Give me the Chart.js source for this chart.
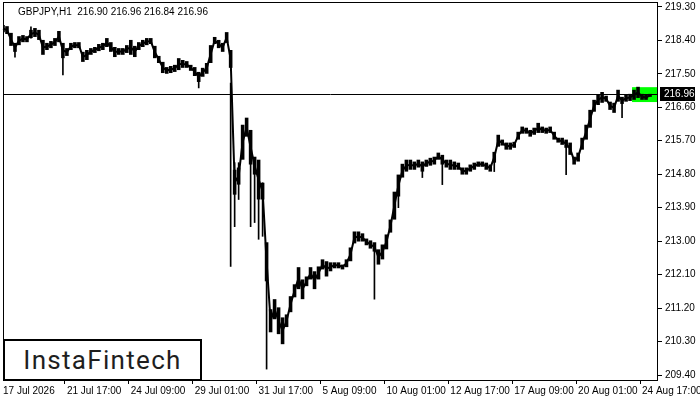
<!DOCTYPE html>
<html>
<head>
<meta charset="utf-8">
<title>GBPJPY H1</title>
<script src="https://cdn.jsdelivr.net/npm/chart.js@4"></script>
<style>
  html, body { margin: 0; padding: 0; background: #fff; }
  #wrap { position: relative; width: 700px; height: 400px; }
  #title { position: absolute; left: 18px; top: 6px; font: 10px "Liberation Sans", Arial, sans-serif; white-space: pre; color: #000; }
  #logo { position: absolute; left: 3px; top: 339px; width: 195px; height: 38px; border: 2px solid #000; background: #fff;
          font: 400 26px Roboto, sans-serif; color: #1e1e1e; text-align: center; line-height: 38px; letter-spacing: 1.3px; }
</style>
</head>
<body>
<div id="wrap">
  <canvas id="chart"></canvas>
  <div id="title"></div>
  <div id="logo">InstaFintech</div>
</div>
<script>
// GBPJPY H1, one slot = 4 hourly bars (range of the slot)
const symbol = 'GBPJPY,H1';
const lastBar = [216.90, 216.96, 216.84, 216.96]; // open high low close

const highs = [
  218.81, 218.78, 218.60, 218.33, 218.51, 218.54, 218.51, 218.68, 218.73, 218.68,
  218.41, 218.33, 218.38, 218.46, 218.65, 218.33, 218.19, 218.33, 218.35, 218.35,
  218.09, 218.14, 218.19, 218.22, 218.30, 218.33, 218.46, 218.35, 218.22, 218.19,
  218.19, 218.27, 218.41, 218.25, 218.35, 218.41, 218.46, 218.46, 218.25, 217.98,
  217.82, 217.68, 217.71, 217.74, 217.92, 217.87, 217.84, 217.74, 217.68, 217.55,
  217.66, 217.79, 218.27, 218.49, 218.41, 218.33, 218.62, 218.14, 214.92, 214.98,
  216.13, 216.32, 215.99, 215.27, 215.19, 214.57, 212.97, 211.17, 211.44, 211.22,
  210.95, 211.03, 211.52, 211.84, 212.30, 211.97, 212.05, 212.30, 212.19, 212.32,
  212.51, 212.46, 212.43, 212.43, 212.43, 212.37, 212.51, 212.83, 213.26, 213.26,
  213.21, 213.07, 213.02, 212.97, 212.78, 212.91, 213.18, 213.58, 214.33, 214.79,
  215.08, 215.19, 215.19, 215.14, 215.19, 215.14, 215.19, 215.24, 215.27, 215.38,
  215.32, 215.19, 215.19, 215.14, 215.11, 214.98, 214.98, 215.06, 215.11, 215.14,
  215.14, 215.11, 215.06, 215.40, 215.86, 215.73, 215.65, 215.65, 215.67, 215.94,
  216.08, 216.05, 215.99, 216.05, 216.18, 216.08, 216.05, 216.08, 215.94, 215.78,
  215.78, 215.73, 215.65, 215.27, 215.38, 215.78, 216.13, 216.53, 216.80, 216.93,
  217.01, 216.91, 216.75, 216.72, 217.07, 216.88, 216.93, 216.96, 217.07, 217.15,
  216.96, 216.93, 216.96
];
const lows = [
  218.62, 218.57, 218.25, 218.09, 218.27, 218.35, 218.35, 218.46, 218.49, 218.41,
  218.01, 218.14, 218.19, 218.25, 218.35, 217.92, 217.98, 218.14, 218.19, 218.19,
  217.82, 217.87, 218.01, 218.06, 218.11, 218.14, 218.22, 218.09, 217.95, 218.01,
  218.01, 218.06, 218.01, 217.95, 218.14, 218.22, 218.27, 218.30, 217.92, 217.79,
  217.52, 217.50, 217.52, 217.55, 217.60, 217.66, 217.66, 217.58, 217.44, 217.28,
  217.42, 217.50, 217.79, 218.30, 218.19, 218.09, 218.33, 217.66, 214.25, 214.52,
  215.19, 215.81, 215.06, 214.79, 214.12, 214.12, 211.92, 210.55, 210.90, 210.50,
  210.23, 210.69, 211.09, 211.49, 211.71, 211.44, 211.79, 211.97, 211.71, 211.97,
  212.24, 212.05, 212.19, 212.27, 212.27, 212.24, 212.30, 212.46, 212.94, 212.99,
  212.99, 212.89, 212.80, 212.72, 212.37, 212.51, 212.78, 213.23, 213.58, 214.20,
  214.71, 214.87, 214.92, 214.92, 214.98, 214.87, 215.00, 215.03, 215.06, 215.19,
  215.06, 214.98, 214.92, 214.92, 214.92, 214.79, 214.79, 214.87, 214.92, 215.00,
  215.00, 214.92, 214.87, 215.11, 215.54, 215.57, 215.46, 215.46, 215.51, 215.73,
  215.89, 215.89, 215.81, 215.86, 215.91, 215.91, 215.89, 215.91, 215.73, 215.65,
  215.59, 215.51, 215.32, 215.06, 215.14, 215.46, 215.73, 216.05, 216.48, 216.66,
  216.72, 216.75, 216.53, 216.45, 216.75, 216.69, 216.75, 216.77, 216.80, 216.85,
  216.80, 216.80, 216.88
];

// single long wicks
const spikeAt   = [3, 7, 15, 49, 57, 58, 59, 62, 63, 64, 65, 66, 93, 99, 105, 110, 123, 141, 155];
const spikeLow  = [217.95, 218.46, 217.47, 217.12, 212.32, 213.39, 214.12, 213.39, 213.50, 213.05, 213.13, 209.56, 211.44, 213.90, 214.71, 214.52, 214.87, 214.79, 216.32];
const spikeHigh = [218.20, 218.76, 218.10, 217.40, 217.25, 215.11, 215.11, 215.50, 215.00, 214.80, 214.57, 212.30, 212.80, 214.50, 215.00, 215.20, 215.30, 215.60, 216.80];

const dateLabels = ['17 Jul 2026', '21 Jul 17:00', '24 Jul 09:00', '29 Jul 01:00', '31 Jul 17:00', '5 Aug 09:00',
                    '10 Aug 01:00', '12 Aug 17:00', '17 Aug 09:00', '20 Aug 01:00', '24 Aug 17:00'];
const labelEvery = 16;
const yTicks = [209.40, 210.30, 211.20, 212.10, 213.00, 213.90, 214.80, 215.70, 216.60, 217.50, 218.40, 219.30];
const zoneFrom = 158, zoneLow = 216.74, zoneHigh = 217.14;

document.getElementById('title').textContent = symbol + '  ' + lastBar.map(v => v.toFixed(2)).join(' ');

const slots = Array.from({length: highs.length + 2}, (_, i) => i);
const band = highs.map((h, i) => [lows[i], h]);
const mids = highs.map((h, i) => (h + lows[i]) / 2);
const wicks = slots.map(() => null);
spikeAt.forEach((k, j) => { wicks[k] = [spikeLow[j], spikeHigh[j]]; });

const font = { family: '"Liberation Sans", Arial, sans-serif', size: 10 };

const decor = {
  id: 'decor',
  beforeDatasetsDraw(chart) {
    const { ctx, chartArea: a, scales: { x, y } } = chart;
    ctx.save();
    ctx.fillStyle = '#00ff00';
    const zx = x.getPixelForValue(zoneFrom) - 2;
    const zt = y.getPixelForValue(zoneHigh), zb = y.getPixelForValue(zoneLow);
    ctx.fillRect(zx, zt, a.right - zx, zb - zt);
    const py = Math.round(y.getPixelForValue(lastBar[3])) + 0.5;
    ctx.strokeStyle = '#000';
    ctx.lineWidth = 1;
    ctx.beginPath();
    ctx.moveTo(a.left, py);
    ctx.lineTo(a.right, py);
    ctx.stroke();
    ctx.restore();
  },
  afterDraw(chart) {
    const { ctx, chartArea: a, scales: { y } } = chart;
    ctx.save();
    ctx.strokeStyle = '#000';
    ctx.lineWidth = 1;
    ctx.strokeRect(Math.round(a.left) + 0.5, Math.round(a.top) + 0.5,
                   Math.round(a.right - a.left) - 1, Math.round(a.bottom - a.top) - 1);
    // current price tag
    const py = Math.round(y.getPixelForValue(lastBar[3]));
    ctx.fillStyle = '#000';
    ctx.fillRect(a.right + 2, py - 7, 35, 14);
    ctx.fillStyle = '#fff';
    ctx.font = '10px "Liberation Sans", Arial, sans-serif';
    ctx.textBaseline = 'middle';
    ctx.fillText(lastBar[3].toFixed(2), a.right + 6, py + 0.5);
    ctx.restore();
  }
};

new Chart(document.getElementById('chart'), {
  type: 'bar',
  data: {
    labels: slots,
    datasets: [
      { type: 'line', data: mids, borderColor: '#000', borderWidth: 2, pointRadius: 0, tension: 0 },
      { data: band, backgroundColor: '#000', borderWidth: 0, grouped: false,
        barPercentage: 0.9, categoryPercentage: 1 },
      { data: wicks, backgroundColor: '#000', borderWidth: 0, grouped: false, barThickness: 1 }
    ]
  },
  options: {
    responsive: true,
    maintainAspectRatio: false,
    animation: false,
    layout: { padding: { left: 3, top: 2, right: 0, bottom: 0 } },
    plugins: { legend: { display: false }, tooltip: { enabled: false }, title: { display: false } },
    scales: {
      x: {
        type: 'category',
        offset: false,
        border: { display: false },
        grid: {
          drawOnChartArea: false,
          tickLength: 3,
          color: c => (c.index % labelEvery === 0 ? '#000' : 'rgba(0,0,0,0)')
        },
        ticks: {
          autoSkip: false,
          maxRotation: 0,
          align: 'start',
          padding: 1,
          color: '#000',
          font,
          callback: (v, i) => (i % labelEvery === 0 ? dateLabels[i / labelEvery] : '')
        },
        afterFit: s => { s.height = 19; s.paddingLeft = 0; s.paddingRight = 0; }
      },
      y: {
        position: 'right',
        min: 209.24,
        max: 219.43,
        border: { display: false },
        grid: { drawOnChartArea: false, tickLength: 4, color: '#000' },
        ticks: { padding: 3, color: '#000', font, callback: v => Number(v).toFixed(2) },
        afterBuildTicks: s => { s.ticks = yTicks.map(v => ({ value: v })); },
        afterFit: s => { s.width = 42; s.paddingTop = 0; s.paddingBottom = 0; }
      }
    }
  },
  plugins: [decor]
});
</script>
</body>
</html>
